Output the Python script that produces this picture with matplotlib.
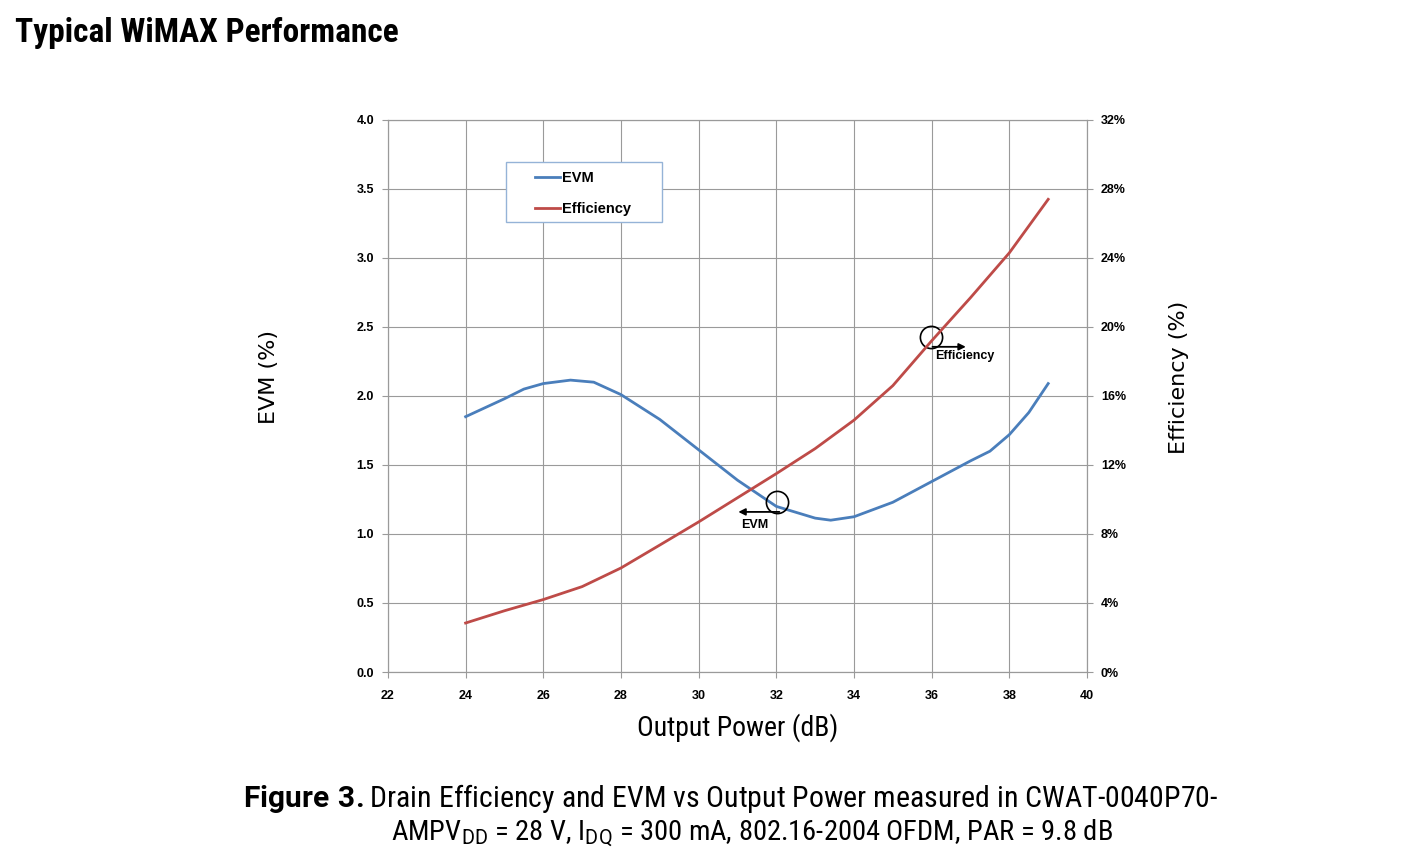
import matplotlib.pyplot as plt
from matplotlib.patches import Rectangle

# datos
potencia = [24, 25, 25.5, 26, 26.7, 27.3, 28, 29, 30, 31, 32, 33, 33.4, 34, 35, 36, 37, 37.5, 38, 38.5, 39]
evm = [1.85, 1.98, 2.05, 2.09, 2.115, 2.10, 2.01, 1.83, 1.61, 1.39, 1.20, 1.115, 1.10, 1.125, 1.23, 1.38, 1.53, 1.60, 1.72, 1.88, 2.09]
potencia_ef = [24, 25, 26, 27, 28, 29, 30, 31, 32, 33, 34, 35, 36, 37, 38, 39]
eficiencia = [2.84, 3.55, 4.2, 4.95, 6.03, 7.36, 8.7, 10.1, 11.5, 12.95, 14.6, 16.6, 19.2, 21.7, 24.3, 27.4]

x_ticks = list(range(22, 41, 2))
evm_ticks = [0.0, 0.5, 1.0, 1.5, 2.0, 2.5, 3.0, 3.5, 4.0]
ef_ticks = [0, 4, 8, 12, 16, 20, 24, 28, 32]

azul = '#4a7ebb'
rojo = '#be4b48'
gris = '#9a9a9a'
narrow = ['Liberation Sans Narrow', 'DejaVu Sans Condensed', 'Roboto Condensed', 'Roboto', 'DejaVu Sans']
arial = ['Liberation Sans', 'DejaVu Sans']

plt.rcParams['mathtext.fontset'] = 'custom'
plt.rcParams['mathtext.rm'] = 'Roboto'
plt.rcParams['mathtext.bf'] = 'Roboto:bold'

fig = plt.figure(figsize=(14.03, 8.6), dpi=100)
ax = fig.add_axes([0.2765, 0.2186, 0.4983, 0.6419])
ax2 = ax.twinx()

ax.plot(potencia, evm, color=azul, lw=2, label='EVM')
ax2.plot(potencia_ef, eficiencia, color=rojo, lw=2, label='Efficiency')

ax.set_xlim(22, 40)
ax.set_ylim(0, 4)
ax2.set_ylim(0, 32)
ax.set_xticks(x_ticks)
ax.set_yticks(evm_ticks)
ax2.set_yticks(ef_ticks)
ax.set_xticklabels([str(t) for t in x_ticks], fontweight='bold', fontsize=9, family=arial)
ax.set_yticklabels(['%.1f' % t for t in evm_ticks], fontweight='bold', fontsize=9, family=arial)
ax2.set_yticklabels(['%d%%' % t for t in ef_ticks], fontweight='bold', fontsize=9, family=arial)

ax.grid(color=gris, lw=0.8)
for a in (ax, ax2):
    for s in a.spines.values():
        s.set_color(gris)
    a.tick_params(direction='out', length=4, color=gris, pad=6)
ax.tick_params(axis='x', pad=9)
ax2.grid(False)

ax.set_ylabel('EVM (%)', fontsize=16, family='DejaVu Sans')
ax.yaxis.set_label_coords(-0.156, 0.534)
ax2.set_ylabel('Efficiency (%)', fontsize=16, family='DejaVu Sans')
ax2.yaxis.set_label_coords(1.117, 0.534)
ax.set_xlabel('Output Power (dB)', fontsize=20, family=narrow, labelpad=8)

# leyenda con marco aparte
h1, l1 = ax.get_legend_handles_labels()
h2, l2 = ax2.get_legend_handles_labels()
ax.legend(h1 + h2, l1 + l2, loc='upper left', bbox_to_anchor=(0.1995, 0.92),
          prop={'family': arial, 'weight': 'bold', 'size': 10.5},
          handlelength=1.75, handletextpad=0.1, borderpad=0, labelspacing=1.15,
          frameon=False)
ax.add_patch(Rectangle((0.1688, 0.8152), 0.2232, 0.1087, transform=ax.transAxes,
                       fill=True, fc='white', ec='#95b3d7', lw=1, zorder=4))

# marcas de serie
ax.plot([32.02], [1.23], marker='o', ms=16, mfc='none', mec='black', mew=1.2, ls='none')
ax.annotate('', xy=(30.95, 1.16), xytext=(32.15, 1.16),
            arrowprops=dict(arrowstyle='-|>', color='black', lw=1.3, mutation_scale=10))
ax.text(31.45, 1.11, 'EVM', fontsize=9, fontweight='bold', ha='center', va='top', family=arial)
ax.plot([35.98], [2.43], marker='o', ms=16, mfc='none', mec='black', mew=1.2, ls='none')
ax2.annotate('', xy=(36.95, 18.85), xytext=(35.95, 18.85),
             arrowprops=dict(arrowstyle='-|>', color='black', lw=1.3, mutation_scale=10))
ax.text(36.1, 2.33, 'Efficiency', fontsize=9, fontweight='bold', ha='left', va='top', family=arial)

fig.text(0.011, 0.962, 'Typical WiMAX Performance', fontsize=24, fontweight='bold',
         family=narrow, va='center', ha='left')

fig.text(0.521, 0.072, r'$\bf{Figure\ 3.}$Drain Efficiency and EVM vs Output Power measured in CWAT-0040P70-',
         fontsize=21.5, family=narrow, ha='center', va='center')
fig.text(0.536, 0.031, r'AMPV$_{\rm DD}$ = 28 V, I$_{\rm DQ}$ = 300 mA, 802.16-2004 OFDM, PAR = 9.8 dB',
         fontsize=20.5, family=narrow, ha='center', va='center')

fig.savefig('out.png', dpi=100)
